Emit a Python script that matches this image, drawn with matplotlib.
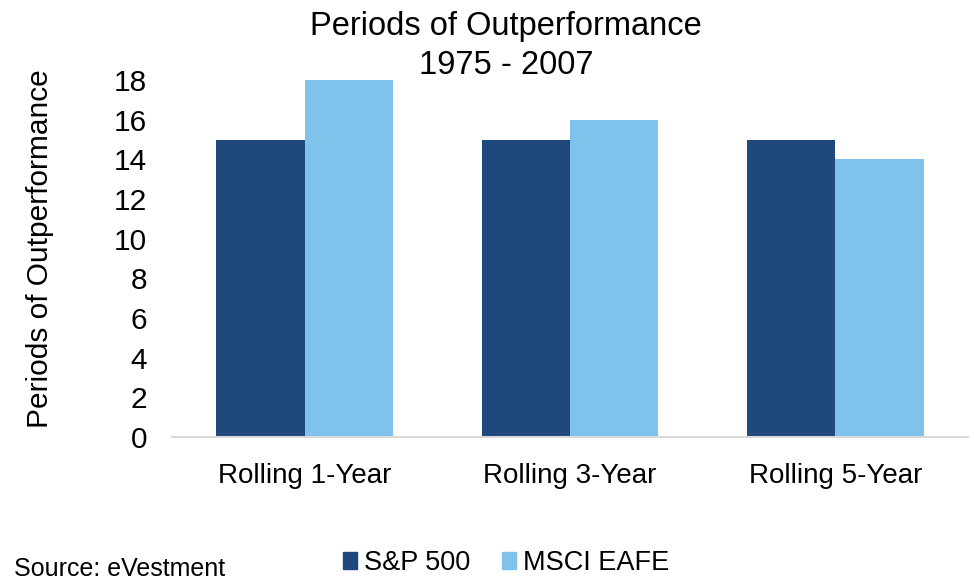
import matplotlib
matplotlib.use("Agg")
import matplotlib.pyplot as plt
import numpy as np
from matplotlib.patches import Patch

categories = ["Rolling 1-Year", "Rolling 3-Year", "Rolling 5-Year"]
sp500 = [15, 15, 15]
eafe = [18, 16, 14]
series_names = ["S&P 500", "MSCI EAFE"]
yticks = [0, 2, 4, 6, 8, 10, 12, 14, 16, 18]

c1 = "#1F497D"
c2 = "#7FC3EC"

plt.rcParams['font.family'] = ['Liberation Sans', 'DejaVu Sans']
narrow = ['Liberation Sans Narrow', 'Liberation Sans']

fig = plt.figure(figsize=(9.74, 5.8), dpi=100)
ax = fig.add_axes([172/974, 1-437/580, (968-172)/974, 357/580])

x = np.arange(len(categories))
w = 1/3
ax.bar(x - w/2, sp500, width=w, color=c1, label=series_names[0])
ax.bar(x + w/2, eafe, width=w, color=c2, label=series_names[1])

ax.set_xlim(-0.5, len(categories) - 0.5)
ax.set_ylim(0, 18)
ax.set_yticks(yticks)
ax.set_xticks(x)
ax.set_xticklabels(categories, fontsize=20)
ax.set_yticklabels([str(v) for v in yticks], family=narrow, fontsize=21.5)
ax.tick_params(axis='both', length=0)
ax.tick_params(axis='x', pad=19)
ax.tick_params(axis='y', pad=18)
for s in ['top', 'right', 'left']:
    ax.spines[s].set_visible(False)
ax.spines['bottom'].set_color('#D9D9D9')
ax.spines['bottom'].set_linewidth(1.5)

fig.text(40/974, 1-249/580, "Periods of Outperformance", rotation=90,
         ha='center', va='center', fontsize=21.5)

fig.text(506/974, 1-27/580, "Periods of Outperformance", ha='center', va='center', fontsize=23.5)
fig.text(506/974, 1-66/580, "1975 - 2007", ha='center', va='center', fontsize=23.5)

fig.text(14/974, 1-569/580, "Source: eVestment", ha='left', va='center', fontsize=18)

handles = [Patch(color=c1), Patch(color=c2)]
fig.legend(handles, series_names, loc='center', bbox_to_anchor=(506/974, 1-563/580),
           ncol=2, frameon=False, fontsize=19.5, handlelength=0.52, handleheight=0.56,
           handletextpad=0.26, columnspacing=1.15, borderpad=0, borderaxespad=0)

fig.savefig("out.png", dpi=100)
